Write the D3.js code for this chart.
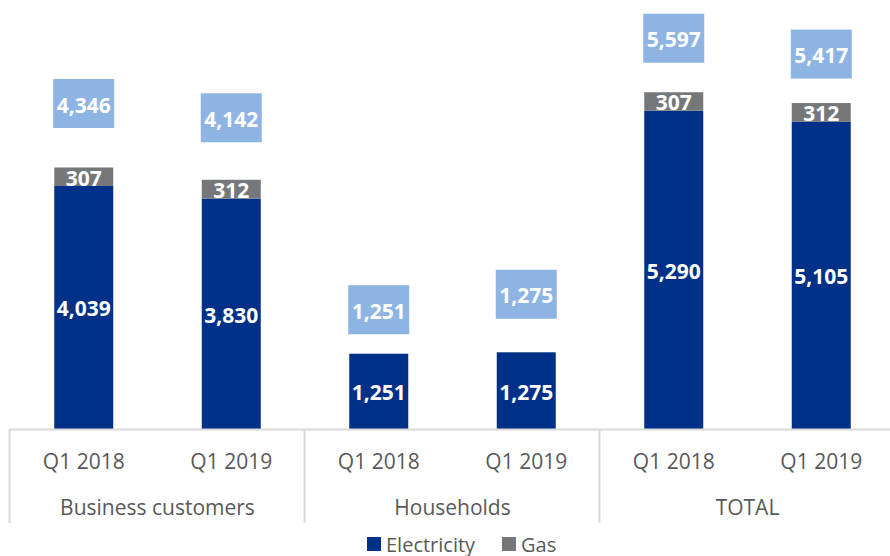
<!DOCTYPE html>
<html>
<head>
<meta charset="utf-8">
<script src="https://cdn.jsdelivr.net/npm/d3@7/dist/d3.min.js"></script>
<style>
body { margin: 0; background: #fff; }
svg text { font-family: "Open Sans", "Noto Sans", sans-serif; }
.bar-label { font-weight: bold; fill: #fff; }
.axis-label { fill: #595959; }
</style>
</head>
<body>
<div id="chart"></div>
<script>
// data
var groups = ["Business customers", "Households", "TOTAL"];
var periods = ["Q1 2018", "Q1 2019"];
var electricity = [4039, 3830, 1251, 1275, 5290, 5105];
var gas = [307, 312, 0, 0, 307, 312];
var totals = [4346, 4142, 1251, 1275, 5597, 5417];

// how far above each stack the total box sits (px), placed by hand in the original
var totalLift = [64, 62, 44, 58, 54, 49];

var width = 890, height = 556;
var baseY = 429;

var rows = [];
groups.forEach(function(g, gi) {
  periods.forEach(function(p, pi) {
    var i = gi * periods.length + pi;
    rows.push({ key: g + "|" + p, group: g, period: p, electricity: electricity[i], gas: gas[i], total: totals[i], lift: totalLift[i] });
  });
});

var x = d3.scaleBand()
  .domain(rows.map(function(d) { return d.key; }))
  .range([10, 895])
  .paddingInner(0.6)
  .paddingOuter(0.3);

var y = d3.scaleLinear()
  .domain([0, 7130])
  .range([baseY, 0]);

var svg = d3.select("#chart").append("svg")
  .attr("width", width)
  .attr("height", height);

var stack = d3.stack().keys(["electricity", "gas"]);
var series = stack(rows);
var colors = { electricity: "#003087", gas: "#75787B" };

var layer = svg.selectAll("g.layer")
  .data(series)
  .enter().append("g")
  .attr("class", "layer")
  .attr("fill", function(s) { return colors[s.key]; });

layer.selectAll("rect")
  .data(function(s) { return s.filter(function(d) { return d[1] > d[0]; }); })
  .enter().append("rect")
  .attr("x", function(d) { return x(d.data.key); })
  .attr("width", x.bandwidth())
  .attr("y", function(d) { return y(d[1]); })
  .attr("height", function(d) { return y(d[0]) - y(d[1]); });

layer.selectAll("text")
  .data(function(s) { return s.filter(function(d) { return d[1] > d[0]; }); })
  .enter().append("text")
  .attr("class", "bar-label")
  .attr("text-anchor", "middle")
  .attr("dominant-baseline", "central")
  .style("font-size", "21px")
  .attr("x", function(d) { return x(d.data.key) + x.bandwidth() / 2; })
  .attr("y", function(d) { return (y(d[0]) + y(d[1])) / 2 + 1; })
  .text(function(d) { return d3.format(",")(d[1] - d[0]); });

// total boxes
var boxW = 61, boxH = 49;
var tot = svg.selectAll("g.total")
  .data(rows)
  .enter().append("g")
  .attr("class", "total")
  .attr("transform", function(d) {
    var cx = x(d.key) + x.bandwidth() / 2;
    var cy = y(d.electricity + d.gas) - d.lift;
    return "translate(" + cx + "," + cy + ")";
  });

tot.append("rect")
  .attr("x", -boxW / 2)
  .attr("y", -boxH / 2)
  .attr("width", boxW)
  .attr("height", boxH)
  .attr("fill", "#8EB4E3");

tot.append("text")
  .attr("class", "bar-label")
  .attr("text-anchor", "middle")
  .attr("dominant-baseline", "central")
  .style("font-size", "21px")
  .attr("y", 1)
  .text(function(d) { return d3.format(",")(d.total); });

// axis: baseline, separators, labels
var step = x.step();
var x0 = 10;
svg.append("line")
  .attr("x1", x0).attr("x2", width)
  .attr("y1", baseY + 0.5).attr("y2", baseY + 0.5)
  .attr("stroke", "#D9D9D9").attr("stroke-width", 2);

var seps = d3.range(groups.length + 1).map(function(i) { return x0 + i * step * periods.length; });
svg.selectAll("line.sep")
  .data(seps)
  .enter().append("line")
  .attr("class", "sep")
  .attr("x1", function(d) { return Math.round(d) - 0.5; })
  .attr("x2", function(d) { return Math.round(d) - 0.5; })
  .attr("y1", baseY)
  .attr("y2", 523)
  .attr("stroke", "#D9D9D9").attr("stroke-width", 2);

svg.selectAll("text.period")
  .data(rows)
  .enter().append("text")
  .attr("class", "axis-label")
  .attr("text-anchor", "middle")
  .attr("dominant-baseline", "central")
  .style("font-size", "21px")
  .attr("x", function(d) { return x(d.key) + x.bandwidth() / 2; })
  .attr("y", 461)
  .text(function(d) { return d.period; });

svg.selectAll("text.group")
  .data(groups)
  .enter().append("text")
  .attr("class", "axis-label")
  .attr("text-anchor", "middle")
  .attr("dominant-baseline", "central")
  .style("font-size", "21px")
  .attr("x", function(d, i) { return x0 + (i + 0.5) * step * periods.length; })
  .attr("y", 507)
  .text(function(d) { return d; });

// legend
var legendItems = [{ name: "Electricity", key: "electricity", x: 367 }, { name: "Gas", key: "gas", x: 502 }];
var leg = svg.selectAll("g.legend")
  .data(legendItems)
  .enter().append("g")
  .attr("class", "legend")
  .attr("transform", function(d) { return "translate(" + d.x + ",537)"; });
leg.append("rect")
  .attr("width", 14).attr("height", 14)
  .attr("fill", function(d) { return colors[d.key]; });
leg.append("text")
  .attr("class", "axis-label")
  .attr("x", 19)
  .attr("y", 7)
  .attr("dominant-baseline", "central")
  .style("font-size", "20px")
  .text(function(d) { return d.name; });
</script>
</body>
</html>
